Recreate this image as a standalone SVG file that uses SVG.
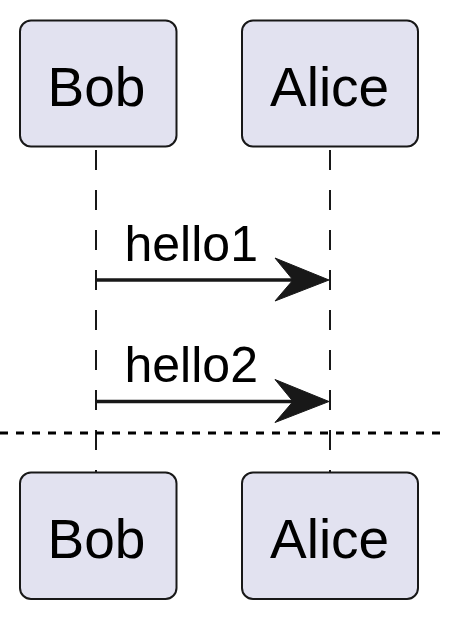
<svg xmlns="http://www.w3.org/2000/svg" width="462" height="619" viewBox="0 0 462 619">
  <style>
    .box { fill: #E2E2F0; stroke: #181818; stroke-width: 2; }
    .name { font-family: "Liberation Sans", Arial, sans-serif; font-size: 55px; fill: #000000; }
    .msg { font-family: "Liberation Sans", Arial, sans-serif; font-size: 50px; fill: #000000; }
    .life { stroke: #181818; stroke-width: 2; stroke-dasharray: 20 20; fill: none; }
    .arrow { stroke: #181818; stroke-width: 3.7; fill: none; }
    .head { fill: #181818; stroke: #181818; stroke-width: 1; }
    .sep { stroke: #000000; stroke-width: 3; stroke-dasharray: 8 8; fill: none; }
  </style>

  <!-- lifelines -->
  <g id="lifelines">
    <line class="life" x1="96" y1="150" x2="96" y2="472"/>
    <line class="life" x1="330" y1="150" x2="330" y2="472"/>
  </g>

  <!-- participants, top -->
  <g id="bob-top">
    <rect class="box" x="20" y="20.5" width="156.5" height="126" rx="11" ry="11"/>
    <text class="name" x="47.5" y="105.5">Bob</text>
  </g>
  <g id="alice-top">
    <rect class="box" x="242" y="20.5" width="176" height="126" rx="11" ry="11"/>
    <text class="name" x="270" y="105.5">Alice</text>
  </g>

  <!-- messages -->
  <g id="connectors">
    <line class="arrow" x1="96" y1="280" x2="318" y2="280"/>
    <polygon class="head" points="275,258 329,280 275,301 293,280"/>
    <text class="msg" x="124.5" y="261">hello1</text>

    <line class="arrow" x1="96" y1="401.5" x2="318" y2="401.5"/>
    <polygon class="head" points="275,379.5 329,401.5 275,422.5 293,401.5"/>
    <text class="msg" x="124.5" y="382">hello2</text>
  </g>

  <!-- page separator -->
  <g id="separator">
    <line class="sep" x1="0" y1="433" x2="440" y2="433"/>
  </g>

  <!-- participants, bottom -->
  <g id="bob-bottom">
    <rect class="box" x="20" y="472.5" width="156.5" height="126.5" rx="11" ry="11"/>
    <text class="name" x="47.5" y="558">Bob</text>
  </g>
  <g id="alice-bottom">
    <rect class="box" x="242" y="472.5" width="176" height="126.5" rx="11" ry="11"/>
    <text class="name" x="270" y="558">Alice</text>
  </g>
</svg>
